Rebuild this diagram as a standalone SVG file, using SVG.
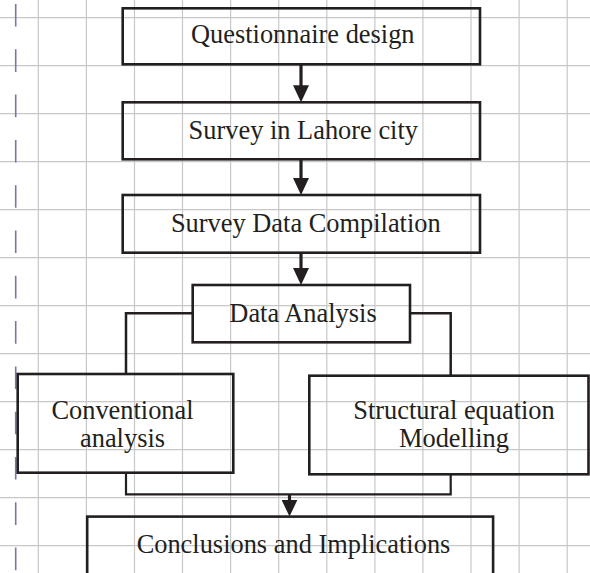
<svg xmlns="http://www.w3.org/2000/svg" width="590" height="573" viewBox="0 0 590 573">
<style>
.grid line{stroke:#c8c8c8;stroke-width:1.2}
.box{fill:none;stroke:#231f20;stroke-width:2.6}
.lbl{font-family:"Liberation Serif","Times New Roman",serif;font-size:26.4px;fill:#231f20;text-anchor:middle}
.conn{fill:none;stroke:#231f20;stroke-width:2.5}
.arr{fill:none;stroke:#231f20;stroke-width:3.2}
.thin{fill:none;stroke:#231f20;stroke-width:2.2}
</style>
<defs>
<marker id="ah" markerUnits="userSpaceOnUse" markerWidth="17" markerHeight="16" viewBox="0 0 17 16" refX="2" refY="8" orient="auto">
<path d="M0,0 L17,8 L0,16 z" fill="#231f20"/>
</marker>
</defs>
<rect width="590" height="573" fill="#ffffff"/>
<g class="grid">
<line x1="38.3" y1="0" x2="38.3" y2="573"/>
<line x1="86.4" y1="0" x2="86.4" y2="573"/>
<line x1="134.5" y1="0" x2="134.5" y2="573"/>
<line x1="182.5" y1="0" x2="182.5" y2="573"/>
<line x1="230.6" y1="0" x2="230.6" y2="573"/>
<line x1="278.7" y1="0" x2="278.7" y2="573"/>
<line x1="326.8" y1="0" x2="326.8" y2="573"/>
<line x1="374.9" y1="0" x2="374.9" y2="573"/>
<line x1="422.9" y1="0" x2="422.9" y2="573"/>
<line x1="471.0" y1="0" x2="471.0" y2="573"/>
<line x1="519.1" y1="0" x2="519.1" y2="573"/>
<line x1="567.2" y1="0" x2="567.2" y2="573"/>
<line x1="0" y1="17.7" x2="590" y2="17.7"/>
<line x1="0" y1="65.7" x2="590" y2="65.7"/>
<line x1="0" y1="113.7" x2="590" y2="113.7"/>
<line x1="0" y1="161.7" x2="590" y2="161.7"/>
<line x1="0" y1="209.7" x2="590" y2="209.7"/>
<line x1="0" y1="257.7" x2="590" y2="257.7"/>
<line x1="0" y1="305.7" x2="590" y2="305.7"/>
<line x1="0" y1="353.7" x2="590" y2="353.7"/>
<line x1="0" y1="401.7" x2="590" y2="401.7"/>
<line x1="0" y1="449.7" x2="590" y2="449.7"/>
<line x1="0" y1="497.7" x2="590" y2="497.7"/>
<line x1="0" y1="545.7" x2="590" y2="545.7"/>
</g>
<line x1="15.7" y1="4" x2="15.7" y2="573" stroke="#7676b2" stroke-width="1.6" stroke-dasharray="22.6 22.7"/>
<g id="connectors">
<line class="arr" x1="301" y1="64.3" x2="301" y2="87.3" marker-end="url(#ah)"/>
<line class="arr" x1="301" y1="159.3" x2="301" y2="180" marker-end="url(#ah)"/>
<line class="arr" x1="301" y1="252.7" x2="301" y2="270" marker-end="url(#ah)"/>
<polyline class="conn" points="192.7,313.3 126,313.3 126,374"/>
<polyline class="conn" points="410,313.3 450.7,313.3 450.7,375.7"/>
<polyline class="thin" points="126,472.7 126,494.3 450.7,494.3 450.7,474.3"/>
<line class="arr" x1="289.5" y1="494.3" x2="289.5" y2="501.6" marker-end="url(#ah)"/>
</g>
<g id="n1">
<rect class="box" x="122.7" y="8.3" width="357.3" height="56"/>
<text class="lbl" x="302.8" y="43.3">Questionnaire design</text>
</g>
<g id="n2">
<rect class="box" x="122.7" y="102.3" width="357.3" height="57"/>
<text class="lbl" x="303.3" y="139">Survey in Lahore city</text>
</g>
<g id="n3">
<rect class="box" x="122.7" y="195" width="357.3" height="57.7"/>
<text class="lbl" x="305.8" y="231.7">Survey Data Compilation</text>
</g>
<g id="n4">
<rect class="box" x="192.7" y="285" width="217.3" height="57.3"/>
<text class="lbl" x="303" y="322.3">Data Analysis</text>
</g>
<g id="n5">
<rect class="box" x="17.7" y="374" width="215.6" height="98.7"/>
<text class="lbl" x="122.5" y="419">Conventional</text>
<text class="lbl" x="122.5" y="447.3">analysis</text>
</g>
<g id="n6">
<rect class="box" x="309.3" y="375.7" width="279.2" height="98.6"/>
<text class="lbl" x="454" y="419.3">Structural equation</text>
<text class="lbl" x="454" y="447.3">Modelling</text>
</g>
<g id="n7">
<rect class="box" x="87.2" y="516.6" width="405.9" height="80"/>
<text class="lbl" x="293.5" y="552.5">Conclusions and Implications</text>
</g>
</svg>
